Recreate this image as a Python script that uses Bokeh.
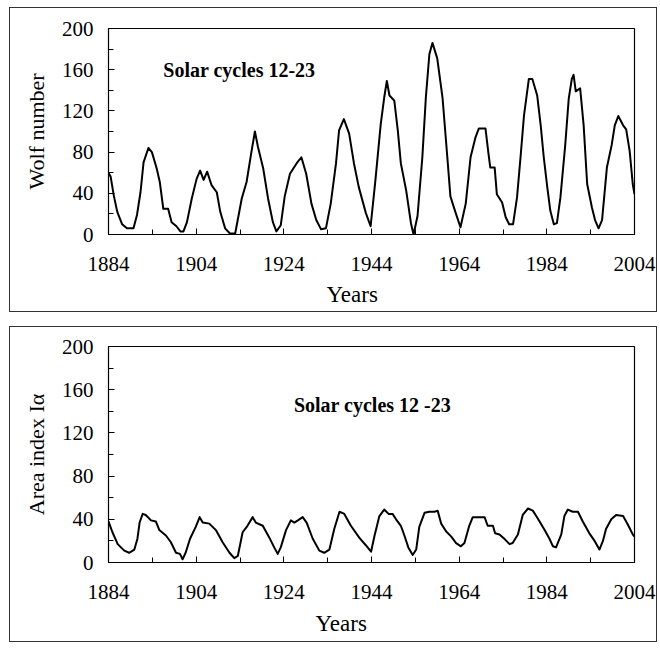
from bokeh.plotting import figure
from bokeh.models import Range1d, FixedTicker, Label, Title
from bokeh.layouts import column
from bokeh.embed import file_html
from bokeh.resources import INLINE

# ---------------- data ----------------
wolf_years = [1884.0, 1884.5, 1885.2, 1886.0, 1887.1, 1888.2, 1889.7, 1890.5, 1891.3, 1892.0,
              1893.1, 1893.9, 1895.0, 1895.7, 1896.5, 1897.6, 1898.4, 1899.5, 1900.4, 1901.1,
              1901.9, 1903.0, 1904.1, 1904.9, 1905.7, 1906.5, 1907.5, 1908.7, 1909.5, 1910.6,
              1911.7, 1912.9, 1914.4, 1915.5, 1916.6, 1917.4, 1918.1, 1919.3, 1920.4, 1921.5,
              1922.3, 1923.3, 1924.2, 1925.4, 1926.9, 1928.0, 1929.1, 1930.3, 1931.4, 1932.5,
              1933.6, 1934.7, 1935.9, 1936.6, 1937.7, 1938.9, 1940.0, 1941.1, 1942.7, 1943.8,
              1944.9, 1946.1, 1946.9, 1947.5, 1948.1, 1949.2, 1950.0, 1950.7, 1951.9, 1953.0,
              1953.6, 1954.5, 1955.6, 1956.4, 1957.2, 1957.9, 1959.0, 1960.2, 1961.3, 1962.0,
              1963.2, 1964.3, 1965.5, 1966.6, 1967.7, 1968.5, 1970.0, 1970.7, 1971.1, 1972.1,
              1972.6, 1973.8, 1974.6, 1975.4, 1976.3, 1977.2, 1978.0, 1978.8, 1979.9, 1980.7,
              1981.8, 1982.6, 1983.3, 1984.1, 1984.8, 1985.6, 1986.3, 1987.1, 1988.2, 1989.0,
              1989.7, 1990.1, 1990.6, 1991.6, 1992.4, 1993.2, 1994.3, 1995.0, 1995.8, 1996.6,
              1997.7, 1998.8, 1999.5, 2000.3, 2001.4, 2002.1, 2002.9, 2003.6, 2004.0]
wolf_number = [60, 56, 38, 22, 10, 6, 6, 19, 41, 70,
               84, 80, 64, 51, 25, 25, 12, 8, 3, 3,
               12, 35, 54, 62, 53, 61, 48, 41, 22, 6,
               1, 1, 35, 51, 80, 100, 85, 64, 35, 12,
               3, 9, 37, 59, 69, 75, 59, 30, 14, 5,
               6, 30, 69, 101, 112, 98, 69, 46, 21, 8,
               53, 107, 133, 149, 135, 130, 101, 69, 43, 11,
               0, 18, 75, 133, 175, 186, 171, 133, 75, 37,
               21, 7, 30, 75, 94, 103, 103, 78, 65, 65,
               39, 31, 17, 10, 10, 36, 75, 116, 151, 151,
               135, 106, 75, 46, 23, 10, 11, 36, 87, 132,
               151, 155, 139, 142, 106, 49, 26, 14, 6, 14,
               65, 87, 106, 115, 106, 102, 81, 49, 39]

area_years = [1884.0, 1884.9, 1886.1, 1887.6, 1888.7, 1889.9, 1890.6, 1891.1, 1891.8, 1892.5,
              1893.7, 1894.8, 1895.6, 1897.1, 1898.2, 1899.4, 1900.3, 1900.9, 1901.6, 1902.6,
              1903.9, 1904.8, 1905.5, 1907.0, 1908.5, 1910.0, 1911.6, 1912.7, 1913.5, 1914.6,
              1915.7, 1916.9, 1917.6, 1919.2, 1920.7, 1921.8, 1922.6, 1923.3, 1924.5, 1925.6,
              1926.4, 1927.2, 1928.3, 1929.2, 1930.6, 1932.1, 1933.2, 1934.4, 1935.5, 1936.7,
              1937.8, 1939.3, 1941.2, 1942.7, 1943.9, 1944.7, 1945.8, 1946.9, 1947.9, 1948.8,
              1949.6, 1950.7, 1951.5, 1952.4, 1953.4, 1954.2, 1954.9, 1956.1, 1957.2, 1958.4,
              1959.1, 1959.9, 1961.0, 1962.2, 1963.3, 1964.4, 1965.2, 1966.3, 1967.1, 1969.8,
              1970.5, 1971.7, 1972.2, 1973.2, 1974.3, 1975.5, 1976.2, 1977.4, 1978.5, 1979.7,
              1980.8, 1981.9, 1983.5, 1984.6, 1985.4, 1986.1, 1987.3, 1988.0, 1988.8, 1989.9,
              1991.1, 1992.2, 1993.7, 1994.9, 1996.0, 1996.8, 1997.5, 1998.7, 1999.8, 2001.4,
              2002.5, 2003.6, 2004.0]
area_index = [38, 28, 17, 11, 9, 12, 22, 37, 45, 44,
              39, 38, 30, 25, 19, 9, 8, 3, 9, 22,
              33, 42, 37, 36, 30, 19, 9, 4, 6, 28,
              34, 42, 37, 34, 23, 14, 8, 14, 30, 39,
              37, 39, 42, 37, 22, 11, 9, 12, 31, 47,
              45, 34, 23, 16, 10, 25, 43, 49, 45, 45,
              40, 34, 25, 14, 7, 12, 33, 46, 47, 47,
              48, 36, 29, 24, 18, 15, 18, 34, 42, 42,
              34, 34, 27, 26, 22, 17, 18, 26, 44, 50,
              48, 41, 30, 22, 15, 14, 26, 43, 49, 47,
              47, 38, 27, 20, 12, 20, 31, 40, 44, 43,
              35, 26, 24]

year_ticks = [1884, 1904, 1924, 1944, 1964, 1984, 2004]
year_minor = [1894, 1914, 1934, 1954, 1974, 1994]
value_ticks = [0, 40, 80, 120, 160, 200]
value_minor = [20, 60, 100, 140, 180]

titles = ["Solar cycles 12-23", "Solar cycles 12 -23"]
ylabels = ["Wolf number", "Area index I\u03b1"]
xlabel = "Years"

SERIF = "Liberation Serif"


def make_panel(years, values, ylabel, title, height, borders, title_xy,
               xlabel_offset, xlabel_standoff):
    left, right, top, bottom = borders
    p = figure(width=648, height=height, output_backend="svg", toolbar_location=None,
               x_range=Range1d(1884, 2004), y_range=Range1d(0, 200),
               min_border_left=left, min_border_right=right,
               min_border_top=top, min_border_bottom=bottom)
    p.styles = {"border": "1px solid #333"}
    p.grid.visible = False
    p.outline_line_color = "black"
    p.outline_line_width = 1.2
    p.background_fill_color = "white"
    p.border_fill_color = "white"

    p.line(years, values, line_color="black", line_width=2, line_join="round")

    p.xaxis.ticker = FixedTicker(ticks=year_ticks, minor_ticks=year_minor)
    p.yaxis.ticker = FixedTicker(ticks=value_ticks, minor_ticks=value_minor)
    for ax in (p.xaxis[0], p.yaxis[0]):
        ax.major_tick_in = 6
        ax.major_tick_out = 0
        ax.minor_tick_in = 5
        ax.minor_tick_out = 0
        ax.axis_line_color = "black"
        ax.major_tick_line_color = "black"
        ax.minor_tick_line_color = "black"
        ax.major_label_text_font = SERIF
        ax.major_label_text_font_size = "21px"
        ax.major_label_text_color = "black"
        ax.axis_label_text_font = SERIF
        ax.axis_label_text_font_size = "22px"
        ax.axis_label_text_font_style = "normal"
        ax.axis_label_text_color = "black"
    p.xaxis.major_label_standoff = 22
    p.yaxis.axis_label = ylabel
    p.yaxis.major_label_standoff = 15
    p.yaxis.axis_label_standoff = 10

    # x-axis label, placed a little left of centre as in the reference
    p.add_layout(Title(text=xlabel, align="left", offset=xlabel_offset,
                       text_font=SERIF, text_font_size="23px",
                       text_font_style="normal", text_color="black",
                       standoff=xlabel_standoff), "below")
    p.add_layout(Label(x=title_xy[0], y=title_xy[1], text=title,
                       text_font=SERIF, text_font_size="20px",
                       text_font_style="bold", text_color="black",
                       text_baseline="middle", text_align="left"))
    return p


p1 = make_panel(wolf_years, wolf_number, ylabels[0], titles[0], 305,
                (98, 21, 20, 77), (1896.5, 160), 218, 13)
p2 = make_panel(area_years, area_index, ylabels[1], titles[1], 316,
                (96, 24, 19, 79), (1926.3, 146), 207, 15)

layout = column(p1, p2, spacing=14)
layout.styles = {"margin-left": "9px", "margin-top": "7px"}

open("out.html", "w").write(file_html(layout, INLINE))
